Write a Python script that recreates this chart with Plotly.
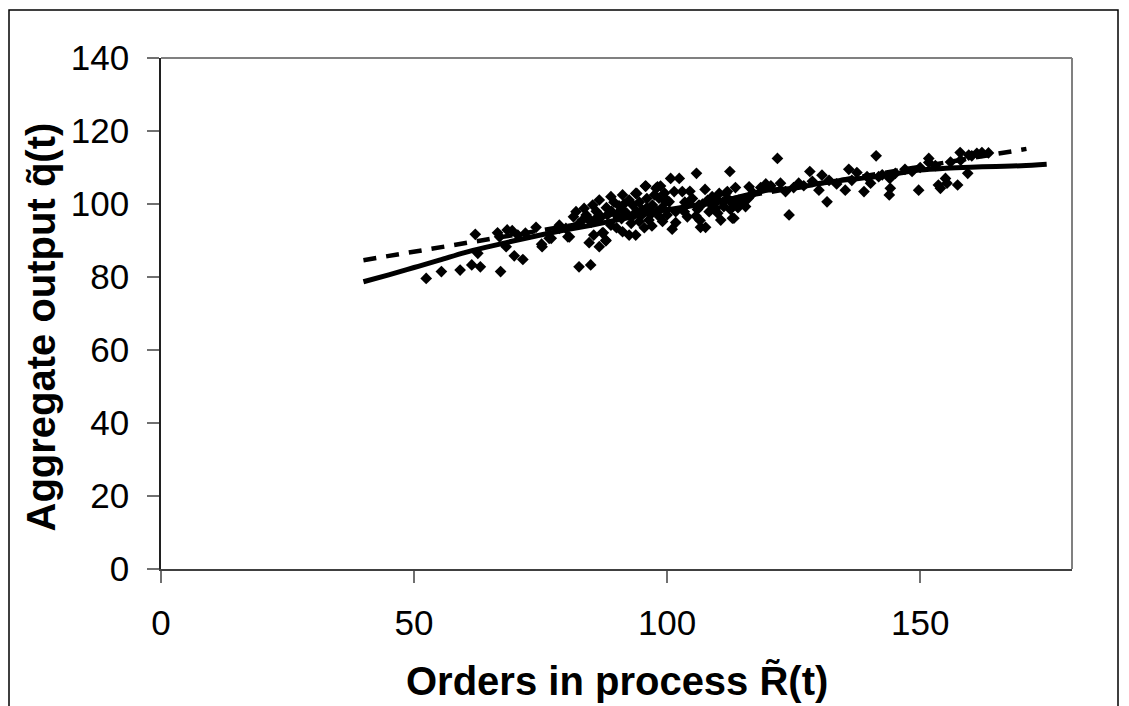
import plotly.graph_objects as go

# Scatter observations: orders in process R~(t) vs aggregate output q~(t)
obs_x = [52.4, 55.4, 59.1, 61.4, 63.1, 62.1, 62.6, 67.1, 66.5, 66.9, 68.2, 69.8, 71.5, 68.4, 69.4,
         70.5, 72.0, 74.1, 75.2, 76.7, 78.7, 80.4, 78.7, 80.0, 80.7, 77.1, 75.3,
         82.6, 84.9, 84.6, 86.6, 87.9, 87.2, 82.0, 83.6, 85.3, 86.6, 88.9, 91.2, 92.5, 94.0, 95.8,
         98.1, 100.7, 101.4, 91.2, 92.5, 93.8, 92.9, 94.5, 96.4, 99.1, 101.0, 88.9, 83.3, 93.2, 95.1,
         97.1, 98.4, 99.7, 88.2, 86.0, 81.5, 82.5, 84.0, 85.0, 86.0, 87.0, 88.0, 89.0, 90.0, 90.5,
         91.0, 92.0, 93.0, 94.0, 95.0, 96.0, 97.0, 98.0, 99.0, 100.0, 100.0, 84.5, 89.5, 91.5, 96.0,
         97.5, 94.5, 99.5, 98.5, 95.5, 90.0, 85.5, 97.0, 91.0, 95.7, 97.8, 98.7, 93.8, 87.4, 87.9,
         101.7, 102.4, 103.0, 105.8, 112.4, 106.6, 107.6, 103.4, 105.7, 110.6, 113.2, 115.5, 116.2,
         108.9, 110.3, 111.9, 104.3, 108.3, 109.6, 114.2, 100.4, 101.7, 106.3, 111.6, 111.2, 112.9,
         103.5, 105.0, 106.0, 107.0, 108.0, 109.0, 110.0, 111.0, 112.0, 113.0, 114.0, 115.0, 104.0,
         106.5, 110.0, 112.5, 116.0, 117.0, 118.5, 119.5, 120.5, 113.5, 107.5, 104.5,
         121.8, 122.4, 124.1, 123.4, 126.0, 128.2, 128.7, 130.6, 130.0, 131.6, 135.2, 135.9, 137.5,
         138.9, 140.2, 141.3, 143.9, 141.8, 145.1, 125.0, 127.0, 132.0, 133.5, 136.5, 139.5, 142.5,
         144.0, 144.1, 149.7, 148.4, 151.7, 153.6, 154.0, 155.3, 155.0, 157.4, 159.4, 157.9, 160.2,
         162.2, 151.7, 159.6, 161.2, 147.0, 150.0, 153.0, 156.0, 158.0, 163.5]
obs_y = [79.6, 81.5, 81.9, 83.3, 82.8, 91.7, 86.5, 81.5, 92.1, 91.0, 88.3, 85.8, 84.8, 92.9, 92.7,
         91.5, 92.0, 93.6, 89.0, 90.6, 94.2, 91.0, 93.3, 93.3, 91.0, 90.6, 88.3,
         82.8, 83.3, 89.4, 88.3, 90.1, 92.1, 97.9, 98.8, 99.7, 101.1, 102.0, 102.5, 101.1, 102.9, 104.9,
         104.7, 107.0, 103.4, 92.4, 91.5, 91.5, 94.7, 95.2, 95.6, 95.2, 93.1, 94.2, 95.6, 99.7, 98.4,
         99.7, 101.6, 100.6, 97.0, 96.1, 96.5, 94.5, 97.0, 95.0, 98.0, 96.5, 99.0, 98.0, 97.0, 99.5,
         96.0, 97.5, 96.5, 98.0, 97.0, 99.0, 97.5, 98.0, 99.0, 97.0, 101.0, 96.0, 100.5, 100.0, 101.5,
         102.5, 100.5, 103.0, 96.5, 93.5, 93.5, 91.5, 94.0, 98.5, 104.9, 104.3, 104.9, 102.9, 92.1, 89.9,
         94.9, 107.0, 103.4, 108.4, 108.9, 93.6, 93.6, 97.9, 96.7, 95.6, 96.1, 99.3, 104.7,
         102.0, 102.9, 103.4, 100.6, 97.9, 98.8, 101.1, 100.6, 97.9, 99.7, 102.9, 99.3, 96.1,
         100.5, 101.5, 98.5, 100.0, 101.0, 99.5, 101.0, 100.5, 101.5, 100.0, 99.0, 100.5, 96.5,
         95.5, 97.5, 98.5, 101.5, 103.0, 104.5, 105.5, 105.0, 104.5, 104.0, 103.5,
         112.5, 105.7, 97.0, 103.4, 105.7, 108.9, 106.2, 107.9, 103.8, 100.6, 103.8, 109.5, 108.6,
         103.4, 105.7, 113.2, 102.5, 107.5, 108.4, 104.5, 105.0, 106.5, 105.5, 106.5, 107.5, 108.0,
         107.0, 104.3, 103.8, 108.9, 111.4, 105.2, 104.3, 105.7, 107.0, 105.2, 108.4, 114.1, 113.2,
         114.1, 112.5, 113.4, 113.9, 109.5, 110.0, 110.5, 111.5, 112.0, 114.0]

# Solid curve (model)
solid_x = [40, 45, 50, 55, 60, 65, 70, 75, 80, 85, 90, 95, 100, 105, 110, 115, 120, 125,
           130, 135, 140, 145, 150, 155, 160, 165, 170, 175]
solid_y = [78.7, 80.6, 82.6, 84.6, 86.7, 88.4, 90.0, 91.5, 92.9, 94.2, 95.6, 97.0, 98.4, 99.5,
           100.5, 102.2, 103.8, 104.3, 105.6, 106.6, 107.3, 108.3, 109.3, 109.8, 110.1, 110.3,
           110.5, 110.9]

# Dashed line (linear fit)
dash_x = [40, 60, 80, 100, 120, 140, 160, 171]
dash_y = [84.6, 89.3, 94.0, 98.7, 103.4, 108.1, 112.8, 115.1]

x_ticks = [0, 50, 100, 150]
y_ticks = [0, 20, 40, 60, 80, 100, 120, 140]

FONT = "Liberation Sans, Arial, sans-serif"

L, T, R, B = 153, 50, 65, 145
PW = 1129 - L - R
PH = 706 - T - B

fig = go.Figure()
fig.add_trace(go.Scatter(x=obs_x, y=obs_y, mode="markers",
                         marker=dict(symbol="diamond", size=9, color="black"),
                         showlegend=False))
fig.add_trace(go.Scatter(x=dash_x, y=dash_y, mode="lines",
                         line=dict(color="black", width=4.5, dash="13px,10px"),
                         showlegend=False))
fig.add_trace(go.Scatter(x=solid_x, y=solid_y, mode="lines",
                         line=dict(color="black", width=5, shape="spline"),
                         showlegend=False))

fig.update_layout(
    width=1129, height=706,
    margin=dict(l=L, r=R, t=T, b=B),
    paper_bgcolor="white", plot_bgcolor="white",
    font=dict(family=FONT, color="black"),
    showlegend=False,
)
fig.update_xaxes(range=[0, 180], tickvals=x_ticks, ticktext=[str(v) for v in x_ticks],
                 showgrid=False, zeroline=False, showline=True, linecolor="#404040", linewidth=1.5,
                 ticks="outside", ticklen=12, tickcolor="#707070", tickwidth=1.5,
                 tickfont=dict(size=35, family=FONT), ticklabelstandoff=10)
fig.update_yaxes(range=[0, 140], tickvals=y_ticks, ticktext=[str(v) for v in y_ticks],
                 showgrid=False, zeroline=False, showline=True, linecolor="#202020", linewidth=1.5,
                 ticks="outside", ticklen=12, tickcolor="#707070", tickwidth=1.5,
                 tickfont=dict(size=35, family=FONT), ticklabelstandoff=11)

# gray top/right plot-area border
fig.add_shape(type="line", xref="paper", yref="paper", x0=0, x1=1, y0=1, y1=1,
              line=dict(color="#808080", width=2))
fig.add_shape(type="line", xref="paper", yref="paper", x0=1, x1=1, y0=0, y1=1,
              line=dict(color="#808080", width=2))
# outer chart frame
fig.add_shape(type="rect", xref="paper", yref="paper",
              x0=(1 - L) / PW, x1=(1110 - L) / PW,
              y0=(PH + T - 760) / PH, y1=(PH + T - 2) / PH,
              line=dict(color="black", width=1.5), fillcolor="rgba(0,0,0,0)", layer="below")

fig.add_annotation(text="<b>Orders in process R\u0303(t)</b>", xref="paper", yref="paper",
                   x=0.5, y=0, xanchor="center", yanchor="middle", yshift=-111,
                   showarrow=False, font=dict(size=40, family=FONT))
fig.add_annotation(text="<b>Aggregate output q\u0303(t)</b>", xref="paper", yref="paper",
                   x=0, y=0.5, xanchor="center", yanchor="middle", xshift=-121, yshift=-14,
                   textangle=-90, showarrow=False, font=dict(size=40, family=FONT))

fig.write_html("out.html")
